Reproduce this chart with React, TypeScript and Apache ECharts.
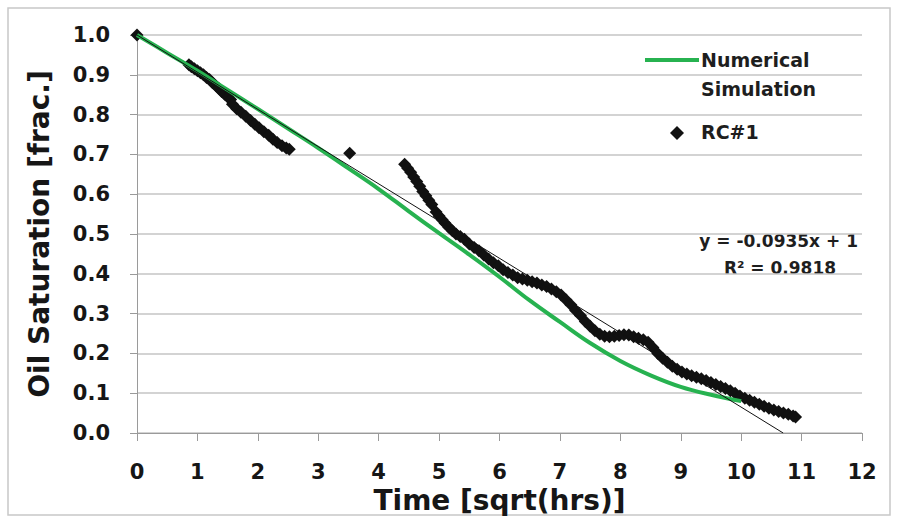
import React, { useEffect, useRef } from "react";
import * as echarts from "echarts";

const xTicks = [0, 1, 2, 3, 4, 5, 6, 7, 8, 9, 10, 11, 12];
const yTicks = [0, 0.1, 0.2, 0.3, 0.4, 0.5, 0.6, 0.7, 0.8, 0.9, 1.0];

// Numerical simulation curve [time, saturation]
const simX = [0, 0.5, 1, 1.5, 2, 2.5, 3, 3.5, 4, 4.5, 5, 5.5, 6, 6.5, 7, 7.5, 8, 8.5, 9, 9.5, 10];
const simY = [1.0, 0.955, 0.91, 0.862, 0.814, 0.765, 0.716, 0.665, 0.613, 0.557, 0.502, 0.448, 0.392, 0.333, 0.279, 0.226, 0.181, 0.145, 0.116, 0.096, 0.08];

// RC#1 measured points
const rcX = [
  0,
  0.86, 0.9, 0.95, 1.0, 1.05, 1.1, 1.15, 1.2, 1.25, 1.3, 1.35, 1.4, 1.45, 1.5, 1.55,
  1.58, 1.65, 1.72, 1.8, 1.88, 1.95, 2.02, 2.1, 2.18, 2.25, 2.32, 2.4, 2.47, 2.52,
  3.52,
  4.43, 4.48, 4.53, 4.58, 4.63, 4.68, 4.73, 4.78, 4.83, 4.88,
  4.95, 5.0, 5.05, 5.1, 5.16, 5.22, 5.28, 5.35, 5.42, 5.5, 5.58, 5.66, 5.74, 5.82, 5.9, 5.98,
  6.06, 6.14, 6.22, 6.3, 6.38, 6.46, 6.54, 6.62, 6.7, 6.78, 6.86, 6.94, 7.02, 7.1, 7.18, 7.26,
  7.34, 7.42, 7.5, 7.58, 7.66, 7.74, 7.82, 7.9, 7.98, 8.06, 8.14, 8.22, 8.3, 8.38, 8.46, 8.54,
  8.62, 8.7, 8.78, 8.86, 8.94, 9.02, 9.1, 9.18, 9.26, 9.34, 9.42, 9.5, 9.58, 9.66, 9.74, 9.82,
  9.9, 9.98, 10.06, 10.14, 10.22, 10.3, 10.38, 10.46, 10.54, 10.62, 10.7, 10.78, 10.86, 10.9
];
const rcY = [
  1.0,
  0.925, 0.92, 0.915, 0.91, 0.905, 0.9, 0.893, 0.888, 0.88, 0.873, 0.866, 0.858, 0.851, 0.844, 0.838,
  0.826, 0.815, 0.806, 0.796, 0.785, 0.776, 0.767, 0.757, 0.748, 0.738, 0.73, 0.722, 0.716, 0.713,
  0.703,
  0.675, 0.665, 0.655, 0.643, 0.632, 0.62, 0.607, 0.596, 0.585, 0.574,
  0.555, 0.545, 0.536, 0.527, 0.517, 0.508, 0.5, 0.494, 0.487, 0.475, 0.466, 0.458, 0.447, 0.437, 0.428, 0.42,
  0.41, 0.403, 0.397, 0.39, 0.387, 0.384, 0.38, 0.377, 0.372, 0.368, 0.362, 0.355, 0.347, 0.335, 0.322, 0.308,
  0.295, 0.28, 0.268, 0.257, 0.248, 0.243, 0.242, 0.243, 0.245, 0.247, 0.246, 0.242, 0.238, 0.234, 0.228, 0.215,
  0.2, 0.188, 0.178, 0.168, 0.16, 0.153, 0.148, 0.144, 0.14, 0.136, 0.132, 0.127, 0.122, 0.117, 0.112, 0.106,
  0.1, 0.093, 0.087, 0.082, 0.077, 0.072, 0.067, 0.062, 0.058, 0.054, 0.05, 0.047, 0.043, 0.04
];

// Linear trendline y = -0.0935x + 1 (drawn until it meets 0)
const trendSlope = -0.0935;
const trendIntercept = 1;
const trendX = [0, 1 / 0.0935];

const FONT = "DejaVu Sans";

export default function App() {
  const ref = useRef<HTMLDivElement>(null);
  useEffect(() => {
    if (!ref.current) return;
    const chart = echarts.init(ref.current, undefined, { renderer: "svg" });
    const simData = simX.map((x, i) => [x, simY[i]]);
    const rcData = rcX.map((x, i) => [x, rcY[i]]);
    const trendData = trendX.map((x) => [x, trendSlope * x + trendIntercept]);
    const txt = (text: string, x: number, y: number, size: number, align: string) => ({
      type: "text",
      x,
      y,
      style: { text, fontFamily: FONT, fontWeight: "bold", fontSize: size, fill: "#1e1e1e", verticalAlign: "middle", align },
    });
    chart.setOption({
      animation: false,
      backgroundColor: "#ffffff",
      grid: { left: 137, right: 37, top: 35, bottom: 90 },
      xAxis: {
        type: "value",
        min: xTicks[0],
        max: xTicks[xTicks.length - 1],
        interval: 1,
        name: "Time [sqrt(hrs)]",
        nameLocation: "middle",
        nameGap: 44,
        nameTextStyle: { fontFamily: FONT, fontWeight: "bold", fontSize: 28, color: "#161616" },
        axisLine: { show: true, lineStyle: { color: "#9a9a9a", width: 1 } },
        axisTick: { show: true, inside: false, length: 8, lineStyle: { color: "#9a9a9a" } },
        axisLabel: { fontFamily: FONT, fontWeight: "bold", fontSize: 21, color: "#161616", margin: 28 },
        splitLine: { show: false },
      },
      yAxis: {
        type: "value",
        min: yTicks[0],
        max: yTicks[yTicks.length - 1],
        interval: 0.1,
        name: "Oil Saturation [frac.]",
        nameLocation: "middle",
        nameGap: 84,
        nameTextStyle: { fontFamily: FONT, fontWeight: "bold", fontSize: 28, color: "#161616" },
        axisLine: { show: true, lineStyle: { color: "#9a9a9a", width: 1 } },
        axisTick: { show: true, inside: false, length: 7, lineStyle: { color: "#9a9a9a" } },
        axisLabel: {
          fontFamily: FONT,
          fontWeight: "bold",
          fontSize: 21,
          color: "#161616",
          margin: 27,
          formatter: (v: number) => v.toFixed(1),
        },
        splitLine: { show: true, lineStyle: { color: "#c4c4c4", width: 1.5 } },
      },
      series: [
        {
          name: "RC#1",
          type: "scatter",
          data: rcData,
          symbol: "diamond",
          symbolSize: 13,
          itemStyle: { color: "#111111", opacity: 1 },
          z: 2,
        },
        {
          name: "Numerical Simulation",
          type: "line",
          data: simData,
          smooth: 0.4,
          showSymbol: false,
          symbol: "none",
          lineStyle: { color: "#27b250", width: 4 },
          z: 3,
        },
        {
          name: "Trend",
          type: "line",
          data: trendData,
          showSymbol: false,
          symbol: "none",
          lineStyle: { color: "#111111", width: 1 },
          z: 4,
        },
      ],
      graphic: [
        {
          type: "rect",
          shape: { x: 8, y: 8, width: 882, height: 507 },
          style: { fill: "none", stroke: "#c8c8c8", lineWidth: 1.5 },
          silent: true,
          z: -1,
        },
        {
          type: "line",
          shape: { x1: 645, y1: 60, x2: 699, y2: 60 },
          style: { stroke: "#27b250", lineWidth: 4 },
        },
        txt("Numerical", 701, 60, 19, "left"),
        txt("Simulation", 701, 89, 19, "left"),
        {
          type: "polygon",
          shape: { points: [[677, 126], [684, 133], [677, 140], [670, 133]] },
          style: { fill: "#111" },
        },
        txt("RC#1", 701, 132, 19, "left"),
        txt("y = -0.0935x + 1", 858, 241, 17, "right"),
        txt("R² = 0.9818", 780, 268, 17, "center"),
      ],
    });
    return () => chart.dispose();
  }, []);
  return (
    <div
      ref={ref}
      style={{ position: "fixed", left: 0, top: 0, width: 899, height: 523, background: "#fff" }}
    />
  );
}
